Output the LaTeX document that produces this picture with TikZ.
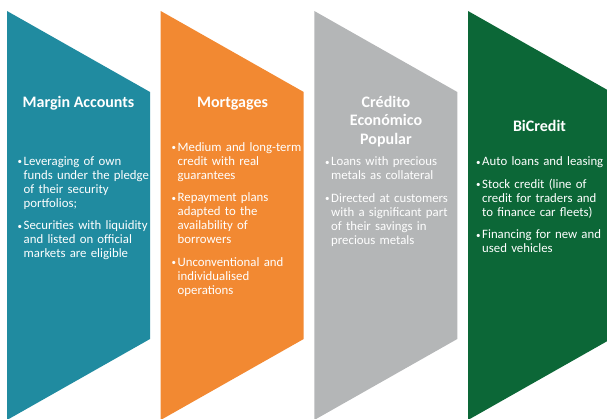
\documentclass[tikz,border=0pt]{standalone}
\usepackage{fontspec}
\setmainfont{Carlito}
\definecolor{cteal}{RGB}{32,139,160}
\definecolor{corange}{RGB}{242,137,50}
\definecolor{cgrey}{RGB}{180,182,183}
\definecolor{cgreen}{RGB}{12,103,55}
% one bulleted point with a hanging indent
\newcommand\pointitem[1]{\par\noindent\hangindent=6pt\hangafter=1
  \makebox[6pt][l]{\raisebox{0.6pt}{\fontsize{9}{9}\selectfont\textbullet}}#1\par\vspace{8.5pt}}
\tikzset{
  chevron/.style={fill=#1, draw=none},
  heading/.style={text=white, font=\fontsize{16}{18.7}\selectfont\bfseries, align=center, inner sep=0pt, anchor=base},
  points/.style={text=white, font=\fontsize{12.8}{14}\selectfont, text width=140pt, align=left, inner sep=0pt, anchor=north west},
}
\begin{document}
\begin{tikzpicture}[x=1pt, y=-1pt]
\useasboundingbox (0,0) rectangle (607,419);
\begin{scope}
\clip (0,0) rectangle (607,419);
% four arrow-shaped panels
\foreach \x/\c in {7/cteal, 160.7/corange, 314.3/cgrey, 468/cgreen}
  \path[chevron=\c] (\x,11) -- (\x+143,92) -- (\x+143,339) -- (\x,420) -- cycle;
\end{scope}

% Margin Accounts
\node[heading] (t1) at (78.5,107.5) {Margin Accounts};
\node[points] (b1) at (17.5,151) {%
  \pointitem{Leveraging of own\newline funds under the pledge\newline of their security\newline portfolios;}%
  \pointitem{Securities with liquidity\newline and listed on official\newline markets are eligible}};

% Mortgages
\node[heading] (t2) at (232.5,107.5) {Mortgages};
\node[points] (b2) at (171.5,137) {%
  \pointitem{Medium and long-term\newline credit with real\newline guarantees}%
  \pointitem{Repayment plans\newline adapted to the\newline availability of\newline borrowers}%
  \pointitem{Unconventional and\newline individualised\newline operations}};

% Credito Economico Popular
\node[heading] (t3) at (386,144.5) {Crédito\\Económico\\Popular};
\node[points] (b3) at (325,151.5) {%
  \pointitem{Loans with precious\newline metals as collateral}%
  \pointitem{Directed at customers\newline with a significant part\newline of their savings in\newline precious metals}};

% BiCredit
\node[heading] (t4) at (539.5,132) {BiCredit};
\node[points] (b4) at (476,151.5) {%
  \pointitem{Auto loans and leasing}%
  \pointitem{Stock credit (line of\newline credit for traders and\newline to finance car fleets)}%
  \pointitem{Financing for new and\newline used vehicles}};
\end{tikzpicture}
\end{document}
